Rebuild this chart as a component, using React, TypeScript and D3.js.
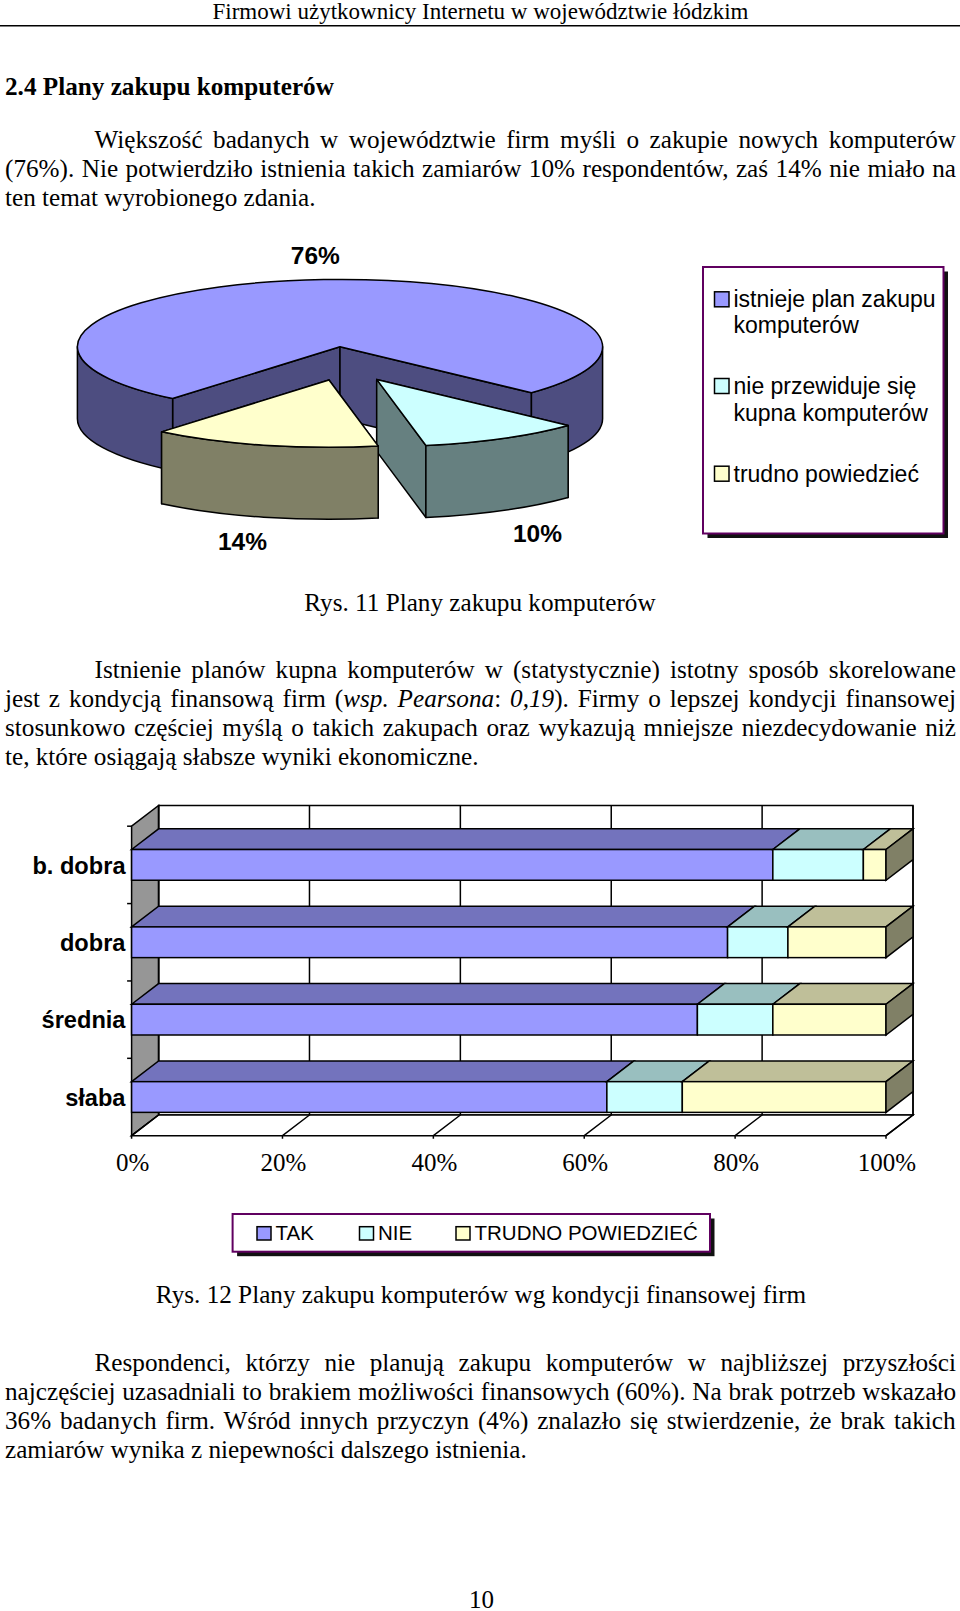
import React from 'react';
import * as d3 from 'd3';

const SERIF = '"Liberation Serif", serif';
const SANS = '"Liberation Sans", sans-serif';
const BODY_SIZE = 25.2;

// Pie data
const pieLabels = ['76%', '10%', '14%'];
const pieValues = [76, 10, 14];
const pieLegend = [
  ['istnieje plan zakupu', 'komputerów'],
  ['nie przewiduje się', 'kupna komputerów'],
  ['trudno powiedzieć']
];

// Stacked bar data
const categories = ['b. dobra', 'dobra', 'średnia', 'słaba'];
const seriesNames = ['TAK', 'NIE', 'TRUDNO POWIEDZIEĆ'];
const tak = [85, 79, 75, 63];
const nie = [12, 8, 10, 10];
const trudno = [3, 13, 15, 27];
const xTicks = [0, 20, 40, 60, 80, 100];

// Page text: [text, italic] segments
type Seg = [string, boolean?];
const intro: Seg[][] = [
  [['Większość badanych w województwie firm myśli o zakupie nowych komputerów']],
  [['(76%). Nie potwierdziło istnienia takich zamiarów 10% respondentów, zaś 14% nie miało na']],
  [['ten temat wyrobionego zdania.']]
];
const middle: Seg[][] = [
  [['Istnienie planów kupna komputerów w (statystycznie) istotny sposób skorelowane']],
  [['jest z kondycją finansową firm ('], ['wsp. Pearsona', true], [': '], ['0,19', true], ['). Firmy o lepszej kondycji finansowej']],
  [['stosunkowo częściej myślą o takich zakupach oraz wykazują mniejsze niezdecydowanie niż']],
  [['te, które osiągają słabsze wyniki ekonomiczne.']]
];
const closing: Seg[][] = [
  [['Respondenci, którzy nie planują zakupu komputerów w najbliższej przyszłości']],
  [['najczęściej uzasadniali to brakiem możliwości finansowych (60%). Na brak potrzeb wskazało']],
  [['36% badanych firm. Wśród innych przyczyn (4%) znalazło się stwierdzenie, że brak takich']],
  [['zamiarów wynika z niepewności dalszego istnienia.']]
];

const colors = {
  blue: '#9999ff', blueSide: '#4d4d80', blueTop: '#7373bd',
  cyan: '#ccffff', cyanSide: '#668080', cyanTop: '#99bfbf',
  yellow: '#ffffcc', yellowSide: '#808066', yellowTop: '#bfbf99'
};

const ctx = document.createElement('canvas').getContext('2d')!;
const measure = (s: string, italic?: boolean) => {
  ctx.font = `${italic ? 'italic ' : ''}${BODY_SIZE}px ${SERIF}`;
  return ctx.measureText(s).width;
};

// one line of body text, spread to x2 with word spacing when x2 is given
const Line = ({ segs, x, y, x2 }: { segs: Seg[]; x: number; y: number; x2?: number }) => {
  let wordSpacing = 0;
  if (x2 !== undefined) {
    const w = d3.sum(segs, s => measure(s[0], s[1]));
    const gaps = d3.sum(segs, s => s[0].split(' ').length - 1);
    wordSpacing = (x2 - x - w) / gaps;
  }
  return (
    <text x={x} y={y} fontFamily={SERIF} fontSize={BODY_SIZE} fill="#000" style={{ wordSpacing, whiteSpace: 'pre' }}>
      {segs.map((s, i) => <tspan key={i} fontStyle={s[1] ? 'italic' : 'normal'}>{s[0]}</tspan>)}
    </text>
  );
};

const Paragraph = ({ lines, y }: { lines: Seg[][]; y: number }) => (
  <g>
    {lines.map((segs, i) => {
      const last = i === lines.length - 1;
      return <Line key={i} segs={segs} x={i === 0 ? 94.5 : 5} y={y + i * 29} x2={last ? undefined : 956} />;
    })}
  </g>
);

const Box = ({ x, y, w, h }: { x: number; y: number; w: number; h: number }) => (
  <g>
    <rect x={x + 4.5} y={y + 4.5} width={w} height={h} fill="#111" />
    <rect x={x} y={y} width={w} height={h} fill="#fff" stroke="#600060" strokeWidth={2} />
  </g>
);

const PieChart = () => {
  const cx = 340;
  const cy = 346.7;
  const rx = 262.6;
  const ry = 67.3;
  const depth = 72;
  const start = (219.6 * Math.PI) / 180;
  const offsets = [[0, 0], [36.7, 32.7], [-11, 33.3]];
  const faces = [
    { top: colors.blue, side: colors.blueSide },
    { top: colors.cyan, side: colors.cyanSide },
    { top: colors.yellow, side: colors.yellowSide }
  ];
  const arcs = d3.pie<number>().sort(null).startAngle(start).endAngle(start + 2 * Math.PI)(pieValues);

  const slice = (i: number) => {
    const { startAngle: a0, endAngle: a1 } = arcs[i];
    const ox = cx + offsets[i][0];
    const oy = cy + offsets[i][1];
    const pt = (a: number): [number, number] => [ox + rx * Math.sin(a), oy - ry * Math.cos(a)];
    const p0 = pt(a0);
    const p1 = pt(a1);
    const large = a1 - a0 > Math.PI ? 1 : 0;
    const top = `M${ox},${oy}L${p0}A${rx},${ry} 0 ${large} 1 ${p1}Z`;
    const inner = [p0, p1].map(p => `M${ox},${oy}L${p}L${p[0]},${p[1] + depth}L${ox},${oy + depth}Z`);
    // outer wall shows only on the front half of the ellipse
    const outer: string[] = [];
    [0, 1].forEach(k => {
      const s = Math.max(a0, Math.PI / 2 + 2 * Math.PI * k);
      const e = Math.min(a1, (3 * Math.PI) / 2 + 2 * Math.PI * k);
      if (e > s) {
        const ps = pt(s);
        const pe = pt(e);
        outer.push(
          `M${ps}A${rx},${ry} 0 0 1 ${pe}L${pe[0]},${pe[1] + depth}A${rx},${ry} 0 0 0 ${ps[0]},${ps[1] + depth}Z`
        );
      }
    });
    return (
      <g key={i} stroke="#000" strokeWidth={1.5} strokeLinejoin="round">
        {inner.map(d => <path key={d} d={d} fill={faces[i].side} />)}
        {outer.map(d => <path key={d} d={d} fill={faces[i].side} />)}
        <path d={top} fill={faces[i].top} />
      </g>
    );
  };

  const labelPos = [[315.3, 264], [537.5, 541.7], [242.4, 550]];
  const legendY = [[307.3, 333.3], [394, 420.7], [481.7]];
  const legendFill = [colors.blue, colors.cyan, colors.yellow];

  return (
    <g>
      {[0, 1, 2].map(slice)}
      {pieLabels.map((l, i) => (
        <text key={l} x={labelPos[i][0]} y={labelPos[i][1]} textAnchor="middle" fontFamily={SANS} fontWeight="bold" fontSize={24.5}>
          {l}
        </text>
      ))}
      <Box x={703} y={267} w={240.5} h={266.5} />
      {pieLegend.map((rows, i) => (
        <g key={i}>
          <rect x={714.5} y={legendY[i][0] - 15.5} width={14.5} height={15} fill={legendFill[i]} stroke="#000" strokeWidth={1.5} />
          {rows.map((r, j) => (
            <text key={r} x={733.5} y={legendY[i][j]} fontFamily={SANS} fontSize={23}>{r}</text>
          ))}
        </g>
      ))}
    </g>
  );
};

const BarChart = () => {
  const x = d3.scaleLinear().domain([0, 100]).range([131.6, 886]);
  const y = d3.scaleBand<string>().domain(categories).range([826.2, 1135.7]).paddingInner(0.603).paddingOuter(0.3015);
  const dx = 27;
  const dy = 20.7;
  const top = 826.2;
  const bottom = 1135.7;
  const rows = categories.map((c, i) => ({ c, tak: tak[i], nie: nie[i], trudno: trudno[i] }));
  const stack = d3.stack<any>().keys(['tak', 'nie', 'trudno'])(rows);
  const fronts = [colors.blue, colors.cyan, colors.yellow];
  const tops = [colors.blueTop, colors.cyanTop, colors.yellowTop];
  const step = y.step();

  return (
    <g stroke="#000" strokeWidth={1.5} fill="none">
      <rect x={x(0) + dx} y={top - dy} width={x(100) - x(0)} height={bottom - top} fill="#fff" />
      <polygon
        points={`${x(0)},${top} ${x(0) + dx},${top - dy} ${x(0) + dx},${bottom - dy} ${x(0)},${bottom}`}
        fill="#969696"
      />
      <polygon
        points={`${x(0)},${bottom} ${x(0) + dx},${bottom - dy} ${x(100) + dx},${bottom - dy} ${x(100)},${bottom}`}
        fill="#fff"
      />
      {xTicks.map(t => (
        <g key={t}>
          <path d={`M${x(t) + dx},${top - dy}V${bottom - dy}L${x(t)},${bottom}V${bottom + 3}`} />
        </g>
      ))}
      {categories.map((c, i) => (
        <path key={c} d={`M${x(0) - 4.5},${top + i * step}H${x(0)}`} />
      ))}
      {categories.map((c, i) => {
        const by = y(c)!;
        const bw = y.bandwidth();
        return (
          <g key={c}>
            {stack.map((s, k) => {
              const x0 = x(s[i][0]);
              const x1 = x(s[i][1]);
              return (
                <g key={k}>
                  <polygon points={`${x0},${by} ${x0 + dx},${by - dy} ${x1 + dx},${by - dy} ${x1},${by}`} fill={tops[k]} />
                  <rect x={x0} y={by} width={x1 - x0} height={bw} fill={fronts[k]} />
                </g>
              );
            })}
            <polygon
              points={`${x(100)},${by} ${x(100) + dx},${by - dy} ${x(100) + dx},${by + bw - dy} ${x(100)},${by + bw}`}
              fill={colors.yellowSide}
            />
            <text x={125.5} y={by + 24} textAnchor="end" fontFamily={SANS} fontWeight="bold" fontSize={23.6} fill="#000" stroke="none">
              {c}
            </text>
          </g>
        );
      })}
      {xTicks.map(t => (
        <text key={t} x={x(t) + 1} y={1171} textAnchor="middle" fontFamily={SERIF} fontSize={25} fill="#000" stroke="none">
          {t}%
        </text>
      ))}
    </g>
  );
};

const BarLegend = () => {
  const swatchX = [257, 359.5, 456];
  const fills = [colors.blue, colors.cyan, colors.yellow];
  return (
    <g>
      <Box x={232.6} y={1214} w={477.4} h={37.7} />
      {seriesNames.map((n, i) => (
        <g key={n}>
          <rect x={swatchX[i]} y={1226.7} width={14} height={13.3} fill={fills[i]} stroke="#000" strokeWidth={1.5} />
          <text x={swatchX[i] + 18.5} y={1240} fontFamily={SANS} fontSize={20.5}>{n}</text>
        </g>
      ))}
    </g>
  );
};

export default function App() {
  return (
    <svg
      width={960}
      height={1611}
      viewBox="0 0 960 1611"
      style={{ position: 'absolute', left: 0, top: 0, display: 'block', background: '#fff' }}
    >
      <text x={480.5} y={19} textAnchor="middle" fontFamily={SERIF} fontSize={23}>
        Firmowi użytkownicy Internetu w województwie łódzkim
      </text>
      <line x1={0} x2={960} y1={25.7} y2={25.7} stroke="#000" strokeWidth={1.5} />
      <text x={5} y={95} fontFamily={SERIF} fontWeight="bold" fontSize={BODY_SIZE}>
        2.4 Plany zakupu komputerów
      </text>
      <Paragraph lines={intro} y={148} />
      <PieChart />
      <text x={480} y={611} textAnchor="middle" fontFamily={SERIF} fontSize={BODY_SIZE}>
        Rys. 11 Plany zakupu komputerów
      </text>
      <Paragraph lines={middle} y={678} />
      <BarChart />
      <BarLegend />
      <text x={481} y={1303.3} textAnchor="middle" fontFamily={SERIF} fontSize={BODY_SIZE}>
        Rys. 12 Plany zakupu komputerów wg kondycji finansowej firm
      </text>
      <Paragraph lines={closing} y={1371} />
      <text x={481.5} y={1608} textAnchor="middle" fontFamily={SERIF} fontSize={25}>
        10
      </text>
    </svg>
  );
}
